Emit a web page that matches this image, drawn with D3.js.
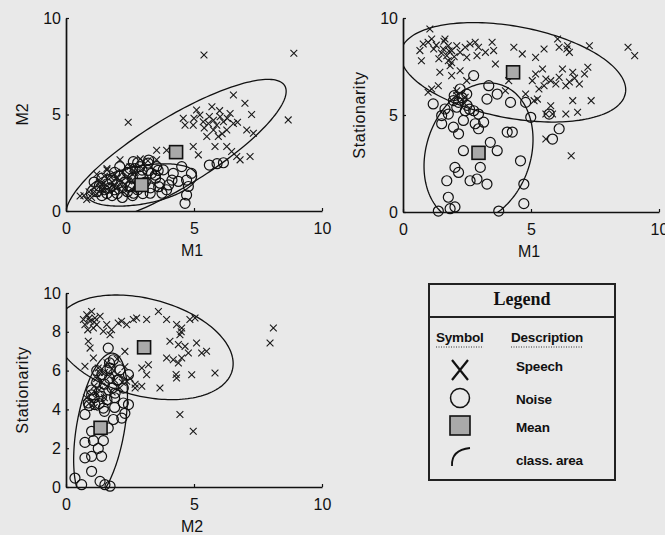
<!DOCTYPE html>
<html>
<head>
<meta charset="utf-8">
<script src="https://cdn.jsdelivr.net/npm/d3@7"></script>
<style>
  html, body { margin: 0; padding: 0; background: #e9e9e9; }
  svg { display: block; }
  text { fill: #111; }
</style>
</head>
<body>
<script>
// ---- Feature values (M1, M2, Stationarity) of speech and noise frames ----

// M1 vs M2
const speechM1M2 = [
  [5.39,8.08],[8.9,8.17],[8.68,4.72],[2.43,4.6],[6.54,6.01],[6.99,5.58],[7.25,5.0],[5.1,5.23],
  [5.23,4.97],[4.58,4.8],[4.65,4.45],[4.97,4.45],[5.36,4.62],[5.56,4.53],[5.76,4.7],[5.89,4.45],
  [6.02,4.88],[6.15,4.62],[6.41,5.05],[6.54,4.53],[6.28,4.2],[5.76,4.2],[5.5,3.86],[5.95,3.86],
  [5.82,3.34],[6.28,3.34],[6.47,3.08],[6.67,2.82],[6.8,2.65],[7.19,2.82],[7.32,4.03],[7.06,4.2],
  [4.97,3.34],[5.17,2.91],[3.54,3.15],[3.93,3.15],[3.54,2.65],[2.11,2.65],[1.6,2.13],[0.55,0.78],
  [0.81,0.6],[1.07,0.95],[1.33,1.3],[5.6,4.9],[6.0,5.2],[6.3,4.8],[5.4,4.3],[6.1,4.0],[5.0,4.8],
  [6.7,4.6],[5.7,5.4],
  [0.7,0.8],[0.9,1.0],[1.0,0.7],[1.1,1.2],[1.2,0.9],[1.3,1.5],[1.4,1.1],[1.5,1.8],[1.6,1.3],
  [1.7,1.0],[1.8,1.5],[1.9,1.9],[2.0,1.2],[2.1,1.6],[2.2,2.0],[2.3,1.4],[2.4,1.8],[2.5,2.3],
  [2.6,1.6],[2.7,2.0],[2.8,1.4],[3.0,2.2],[3.2,2.6],[1.2,1.9],[1.6,2.2],[2.9,2.7],
  [1.5,1.0],[1.9,1.3],[2.3,1.1],[2.0,1.7],[2.6,1.9],[1.4,1.4],[1.75,1.75],[2.45,1.55]
];
const noiseM1M2 = [
  [4.65,0.4],[4.71,0.83],[4.78,1.27],[4.71,1.6],[4.9,1.95],[4.19,1.95],[3.8,2.13],[3.67,1.44],
  [3.93,1.1],[3.54,2.3],[3.21,2.48],[2.89,2.3],[3.34,1.95],[4.39,1.53],[4.52,2.3],[5.6,2.38],
  [5.9,2.45],[6.15,2.5],[2.5,2.2],[2.63,2.56],[4.14,1.6],[3.62,1.26],[3.75,0.92],[4.01,1.35],
  [3.23,2.64],[3.49,1.86],[3.29,0.92],[2.64,0.92],[2.51,1.26],[2.97,2.12],
  [1.2,1.0],[1.3,1.3],[1.4,0.8],[1.5,1.1],[1.6,1.4],[1.6,0.9],[1.7,1.2],[1.8,1.6],[1.8,0.8],
  [1.9,1.1],[2.0,1.4],[2.0,0.9],[2.1,1.8],[2.2,1.2],[2.2,0.7],[2.3,1.5],[2.4,1.0],[2.4,2.0],
  [2.5,1.3],[2.6,1.7],[2.6,0.8],[2.7,2.2],[2.8,1.1],[2.9,1.8],[3.0,0.9],[3.1,1.5],[3.2,2.1],
  [1.1,1.5],[1.4,1.7],[1.9,2.0],[2.1,2.3],[2.8,2.5],[3.3,1.2],[3.5,1.7],[3.6,2.1]
];

// M1 vs Stationarity
const speechM1Stat = [
  [1.05,9.43],[1.12,8.92],[0.98,8.75],[0.79,8.66],[0.72,7.8],[0.66,8.32],[1.64,8.92],[1.77,8.57],
  [1.57,8.4],[1.71,8.06],[1.9,8.32],[2.1,8.57],[2.23,8.23],[2.43,8.49],[2.49,7.97],[2.62,8.66],
  [2.82,8.75],[2.95,8.49],[2.89,8.06],[3.22,8.23],[3.48,8.75],[3.54,8.32],[3.61,7.63],[1.77,7.8],
  [1.84,7.54],[1.44,7.2],[1.9,7.03],[2.23,7.28],[2.49,6.77],[1.38,6.51],[1.12,6.34],[0.98,6.17],
  [2.1,6.25],[2.43,5.91],[4.33,8.49],[4.66,8.15],[5.18,7.97],[5.51,8.4],[6.04,8.92],[6.1,8.49],
  [6.43,8.57],[6.5,8.23],[7.28,8.57],[8.79,8.49],[9.05,8.06],[7.22,7.46],[7.09,7.11],[6.89,6.6],
  [6.63,7.2],[6.23,7.37],[6.1,6.94],[6.36,6.51],[5.97,6.6],[5.77,6.77],[5.58,6.86],[5.45,7.37],
  [5.18,7.11],[5.05,6.77],[5.31,6.34],[5.51,6.51],[5.25,5.82],[5.12,5.74],[5.77,5.48],[5.84,5.05],
  [5.58,5.05],[6.36,5.05],[6.82,5.14],[6.63,5.74],[7.35,5.74],[4.79,6.08],[4.0,6.25],[4.13,6.77],
  [6.57,2.9],[5.58,3.76],[1.3,8.6],[1.5,8.2],[1.6,8.8],[1.8,8.3],[1.4,7.9],[1.2,8.4],[1.9,7.7],
  [2.0,8.0],[2.1,6.0],[2.3,5.8],[2.4,5.6],[6.5,6.7],[6.7,6.9],[6.4,8.4]
];
const noiseM1Stat = [
  [2.76,7.03],[3.35,6.51],[2.23,6.34],[2.49,6.08],[1.97,5.74],[2.17,5.65],[1.18,5.57],[1.64,5.31],
  [1.51,4.97],[1.77,5.05],[2.76,5.22],[2.95,5.05],[2.43,5.22],[3.28,5.82],[4.2,5.65],[3.68,6.08],
  [4.79,5.65],[4.99,4.88],[5.71,5.05],[6.1,4.29],[5.84,3.76],[4.07,4.12],[4.27,4.12],[1.51,4.55],
  [1.97,4.37],[2.17,4.03],[2.36,4.72],[2.82,4.55],[2.95,4.29],[3.15,4.63],[3.41,3.59],[3.68,3.16],
  [2.36,3.16],[2.03,2.3],[2.17,2.04],[1.71,1.61],[2.62,1.61],[2.89,1.7],[3.28,1.44],[3.02,2.3],
  [4.59,2.64],[4.72,1.44],[1.77,0.76],[2.03,0.26],[1.84,0.17],[1.38,0.05],[3.74,0.05],[4.72,0.43],
  [2.3,5.9],[2.5,5.5],[2.1,5.4],[2.6,5.3],[2.0,6.0]
];

// M2 vs Stationarity
const speechM2Stat = [
  [0.81,8.88],[1.0,9.05],[1.13,8.71],[0.94,8.54],[0.74,8.37],[1.2,8.37],[1.33,8.8],[0.68,8.63],
  [1.07,8.2],[1.59,8.37],[1.46,8.03],[1.78,8.11],[2.04,8.45],[2.37,8.37],[2.63,8.63],[2.76,8.71],
  [1.72,7.85],[0.87,7.51],[0.94,7.16],[1.07,6.65],[0.74,6.22],[1.26,6.13],[2.3,6.99],[2.17,8.54],
  [3.15,8.63],[3.61,9.05],[3.93,8.63],[4.32,8.37],[4.52,8.2],[4.84,8.63],[5.04,8.71],[4.45,7.85],
  [4.06,7.51],[4.39,7.34],[4.65,7.25],[4.78,6.91],[5.1,7.42],[5.3,6.91],[5.49,7.0],[3.93,6.65],
  [4.19,6.56],[4.39,6.39],[4.52,6.65],[3.22,6.3],[2.96,6.13],[3.15,5.79],[3.67,5.1],[4.32,5.62],
  [4.91,5.79],[5.82,5.88],[4.45,3.74],[4.97,2.87],[8.1,8.2],[7.97,7.42],[2.96,5.19],[2.7,5.1],
  [2.37,5.45],[0.9,8.7],[1.1,8.5],[0.85,8.1],[4.5,8.0],[4.3,5.8],
  [0.9,4.3],[1.0,4.8],[1.1,5.2],[1.2,5.6],[1.3,5.0],[1.4,5.4],[1.5,5.9],[1.5,4.6],[1.6,5.2],
  [1.7,5.7],[1.8,6.1],[1.8,4.9],[1.9,5.5],[2.0,5.8],[2.1,5.1],[2.2,5.4],[2.3,6.2],[2.5,5.6],
  [2.7,5.3],[0.8,4.6],[1.1,4.1],[1.3,5.9],[1.6,6.4],[2.0,6.6]
];
const noiseM2Stat = [
  [1.65,7.16],[1.85,6.56],[2.11,6.04],[1.72,6.13],[2.44,5.79],[2.04,5.53],[2.24,5.1],[1.92,4.84],
  [2.44,4.25],[2.24,4.33],[2.3,3.8],[2.18,3.55],[1.85,3.48],[1.46,4.07],[1.39,4.67],[1.13,4.25],
  [1.0,4.75],[0.87,4.33],[0.74,3.74],[1.65,3.04],[1.0,2.87],[0.74,2.3],[1.07,2.39],[1.46,2.39],
  [1.0,1.58],[0.74,1.5],[1.39,1.58],[1.26,1.99],[1.0,0.81],[0.35,0.46],[0.61,0.12],[1.52,0.12],
  [1.72,0.04],[1.33,0.29],
  [0.9,4.2],[1.0,5.0],[1.1,4.6],[1.2,5.4],[1.3,4.9],[1.4,5.8],[1.5,5.3],[1.6,6.0],[1.7,5.6],
  [1.8,5.1],[1.9,4.6],[2.0,5.5],[1.3,4.3],[1.6,4.5],[1.7,6.4],[1.2,6.0],[1.5,3.9],[1.9,4.1]
];

// Class means: [M1, M2, Stationarity]
const speechMean = [4.3, 3.05, 7.2];
const noiseMean  = [2.95, 1.35, 3.05];

// Class areas: two conjugate half-axes (data units) around each class mean
const speechAreaM1M2   = [[4.3, 3.15], [0, 2.07]];
const noiseAreaM1M2    = [[2.15, 0.45], [0, 1.0]];
const speechAreaM1Stat = [[4.4, -0.9], [0, 2.4]];
const noiseAreaM1Stat  = [[0.35, 3.6], [2.1, 0.1]];
const speechAreaM2Stat = [[3.45, -0.5], [-0.45, 2.65]];
const noiseAreaM2Stat  = [[0.45, 3.85], [0.95, 0]];

const axisTicks10 = [0, 5, 10];
const axisTicks2  = [0, 2, 4, 6, 8, 10];

const legendTitle = "Legend";
const legendHeads = ["Symbol", "Description"];
const legendItems = ["Speech", "Noise", "Mean", "class. area"];

// ---- Drawing ----
const W = 665, H = 535;
const svg = d3.select("body").append("svg").attr("width", W).attr("height", H);
svg.append("rect").attr("width", W).attr("height", H).attr("fill", "#e9e9e9");

const FONT = "'Liberation Sans', Arial, sans-serif";
const INK = "#111";

const panels = [
  { id: "p1", xr: [66, 322], yr: [211, 18], xi: 0, yi: 1, xLabel: "M1", yLabel: "M2",
    yTicks: axisTicks10, speech: speechM1M2, noise: noiseM1M2,
    sArea: speechAreaM1M2, nArea: noiseAreaM1M2 },
  { id: "p2", xr: [403, 659], yr: [212, 18], xi: 0, yi: 2, xLabel: "M1", yLabel: "Stationarity",
    yTicks: axisTicks10, speech: speechM1Stat, noise: noiseM1Stat,
    sArea: speechAreaM1Stat, nArea: noiseAreaM1Stat },
  { id: "p3", xr: [66, 322], yr: [487, 293], xi: 1, yi: 2, xLabel: "M2", yLabel: "Stationarity",
    yTicks: axisTicks2, speech: speechM2Stat, noise: noiseM2Stat,
    sArea: speechAreaM2Stat, nArea: noiseAreaM2Stat }
];

const defs = svg.append("defs");

panels.forEach(p => {
  const x = d3.scaleLinear().domain([0, 10]).range(p.xr);
  const y = d3.scaleLinear().domain([0, 10]).range(p.yr);
  const g = svg.append("g");

  defs.append("clipPath").attr("id", "clip-" + p.id)
    .append("rect")
    .attr("x", p.xr[0]).attr("y", p.yr[1])
    .attr("width", p.xr[1] - p.xr[0]).attr("height", p.yr[0] - p.yr[1]);

  // class-area ellipses
  const ellipse = (c, axes) => d3.range(0, 181).map(i => {
    const t = i / 180 * 2 * Math.PI, ct = Math.cos(t), st = Math.sin(t);
    return [c[0] + ct * axes[0][0] + st * axes[1][0], c[1] + ct * axes[0][1] + st * axes[1][1]];
  });
  const line = d3.line().x(d => x(d[0])).y(d => y(d[1]));
  const areas = g.append("g").attr("clip-path", "url(#clip-" + p.id + ")");
  [[speechMean, p.sArea], [noiseMean, p.nArea]].forEach(([m, axes]) => {
    areas.append("path")
      .attr("d", line(ellipse([m[p.xi], m[p.yi]], axes)))
      .attr("fill", "none").attr("stroke", INK).attr("stroke-width", 1.3);
  });

  // noise frames
  g.append("g").selectAll("circle").data(p.noise).join("circle")
    .attr("cx", d => x(d[0])).attr("cy", d => y(d[1])).attr("r", 5)
    .attr("fill", "none").attr("stroke", INK).attr("stroke-width", 1.2);

  // speech frames
  const s = 3.4;
  g.append("g").selectAll("path").data(p.speech).join("path")
    .attr("d", d => {
      const cx = x(d[0]), cy = y(d[1]);
      return `M${cx - s},${cy - s}L${cx + s},${cy + s}M${cx - s},${cy + s}L${cx + s},${cy - s}`;
    })
    .attr("stroke", "#1a1a1a").attr("stroke-width", 1.1).attr("fill", "none");

  // class means
  g.append("g").selectAll("rect").data([speechMean, noiseMean]).join("rect")
    .attr("x", d => x(d[p.xi]) - 6.5).attr("y", d => y(d[p.yi]) - 6.5)
    .attr("width", 13).attr("height", 13)
    .attr("fill", "#a9a9a9").attr("stroke", INK).attr("stroke-width", 1.6);

  // axes
  const ax = g.append("g").attr("transform", `translate(0,${p.yr[0]})`)
    .call(d3.axisBottom(x).tickValues(axisTicks10).tickFormat(d3.format("d"))
      .tickSizeInner(-3).tickSizeOuter(0).tickPadding(11.5));
  const ay = g.append("g").attr("transform", `translate(${p.xr[0]},0)`)
    .call(d3.axisLeft(y).tickValues(p.yTicks).tickFormat(d3.format("d"))
      .tickSizeInner(-3).tickSizeOuter(0).tickPadding(5));
  [ax, ay].forEach(a => {
    a.attr("font-family", FONT).attr("font-size", 16);
    a.select(".domain").attr("stroke", INK).attr("stroke-width", 1.7);
    a.selectAll(".tick line").attr("stroke", INK).attr("stroke-width", 1.2);
    a.selectAll(".tick text").attr("fill", INK);
  });

  // axis titles
  g.append("text")
    .attr("x", (p.xr[0] + p.xr[1]) / 2 - 2).attr("y", p.yr[0] + 45)
    .attr("text-anchor", "middle").attr("font-family", FONT).attr("font-size", 16)
    .text(p.xLabel);
  g.append("text")
    .attr("transform", `translate(${p.xr[0] - 38},${(p.yr[0] + p.yr[1]) / 2}) rotate(-90)`)
    .attr("text-anchor", "middle").attr("font-family", FONT).attr("font-size", 16)
    .attr("letter-spacing", p.yLabel.length > 2 ? 0.6 : 0)
    .text(p.yLabel);
});

// ---- Legend box ----
const L = svg.append("g").attr("transform", "translate(429,284)");
const LW = 186, LH = 196;
L.append("rect").attr("width", LW).attr("height", LH)
  .attr("fill", "none").attr("stroke", "#222").attr("stroke-width", 2);
L.append("line").attr("x1", 0).attr("x2", LW).attr("y1", 33).attr("y2", 33)
  .attr("stroke", "#222").attr("stroke-width", 2);
L.append("text").attr("x", 93).attr("y", 21).attr("text-anchor", "middle")
  .attr("font-family", "'Liberation Serif', 'Times New Roman', serif")
  .attr("font-weight", "bold").attr("font-size", 18).text(legendTitle);

const headX = [7, 82];
legendHeads.forEach((h, i) => {
  const t = L.append("text").attr("x", headX[i]).attr("y", 58)
    .attr("font-family", FONT).attr("font-weight", "bold").attr("font-size", 13.5)
    .attr("letter-spacing", -0.2).text(h);
  const w = t.node().getComputedTextLength();
  L.append("line").attr("x1", headX[i]).attr("x2", headX[i] + w).attr("y1", 63).attr("y2", 63)
    .attr("stroke", "#333").attr("stroke-width", 1).attr("stroke-dasharray", "1,1.5");
});

const rowY = [86, 115, 143, 176];
legendItems.forEach((name, i) => {
  L.append("text").attr("x", 87).attr("y", rowY[i] - (i === 0 ? 4 : 0) + 5)
    .attr("font-family", FONT).attr("font-weight", "bold").attr("font-size", 13.5)
    .attr("letter-spacing", -0.2).text(name);
});

// legend symbols
const sx = 31;
L.append("path")
  .attr("d", `M${sx - 8},${rowY[0] - 10}L${sx + 8},${rowY[0] + 10}M${sx - 8},${rowY[0] + 10}L${sx + 8},${rowY[0] - 10}`)
  .attr("stroke", "#111").attr("stroke-width", 2.2).attr("fill", "none");
L.append("circle").attr("cx", sx).attr("cy", rowY[1] - 1).attr("r", 9.5)
  .attr("fill", "none").attr("stroke", "#111").attr("stroke-width", 1.5);
L.append("rect").attr("x", sx - 10).attr("y", rowY[2] - 11).attr("width", 20).attr("height", 19)
  .attr("fill", "#a9a9a9").attr("stroke", "#111").attr("stroke-width", 1.6);
L.append("path")
  .attr("d", `M${sx - 8},${rowY[3] + 6} Q${sx - 9},${rowY[3] - 10} ${sx + 10},${rowY[3] - 12}`)
  .attr("fill", "none").attr("stroke", "#111").attr("stroke-width", 1.8);
</script>
</body>
</html>
